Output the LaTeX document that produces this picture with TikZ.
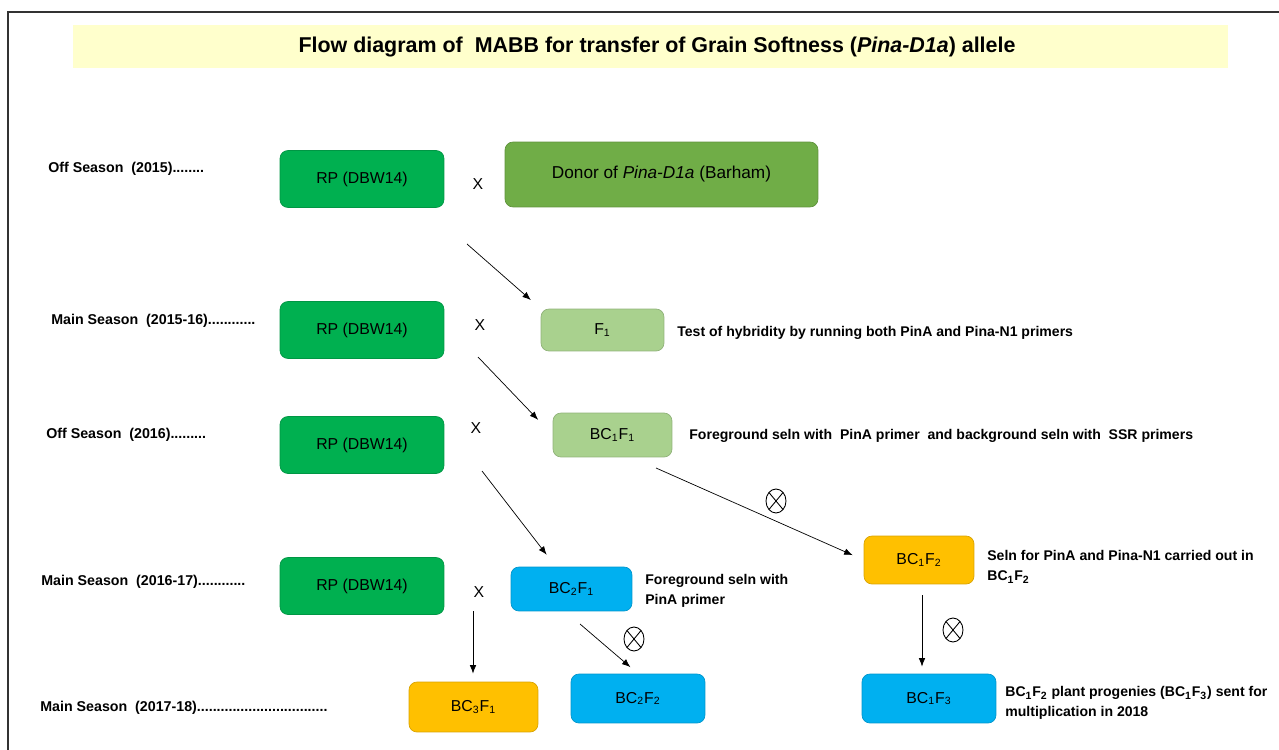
\documentclass[tikz,border=0pt]{standalone}
\usepackage{fontspec}
\setmainfont{Liberation Sans}
\usetikzlibrary{arrows.meta}

\definecolor{rpgreen}{HTML}{00B050}
\definecolor{donorgreen}{HTML}{70AD47}
\definecolor{lightgreen}{HTML}{A9D18E}
\definecolor{gold}{HTML}{FFC000}
\definecolor{skyblue}{HTML}{00B0F0}
\definecolor{titlebg}{HTML}{FFFFCC}

\newcommand{\sbs}[1]{\textsubscript{#1}}

\tikzset{
  box/.style={rounded corners=0.16cm, inner sep=0pt, align=center,
    font=\fontsize{9}{11}\selectfont, draw=#1!85!black, fill=#1, line width=0.4pt},
  rpbox/.style={box=rpgreen, minimum width=3.28cm, minimum height=1.14cm},
  season/.style={anchor=west, inner sep=0pt, font=\fontsize{8.1}{10}\selectfont\bfseries},
  note/.style={anchor=west, inner sep=0pt, align=left, font=\fontsize{8}{11.3}\selectfont\bfseries},
  cross/.style={inner sep=0pt, font=\fontsize{9}{11}\selectfont},
  arr/.style={-{Latex[length=0.17cm,width=0.13cm]}, line width=0.4pt},
  selfed/.pic={\draw[line width=0.5pt] (0,0) ellipse (0.2cm and 0.24cm);
    \draw[line width=0.5pt] (-0.141cm,-0.17cm) -- (0.141cm,0.17cm) (-0.141cm,0.17cm) -- (0.141cm,-0.17cm);}
}

\begin{document}
\begin{tikzpicture}[x=0.02cm, y=-0.02cm]
  \useasboundingbox (0,0) rectangle (1279,750);
  \draw[line width=1.2pt, black!80] (8,750) -- (8,12) -- (1279,12);

  % title
  \fill[titlebg] (73,25) rectangle (1228,68);
  \node[inner sep=0pt, font=\fontsize{12.2}{14}\selectfont\bfseries] (title) at (657,47)
    {Flow diagram of\ \ MABB for transfer of Grain Softness (\textit{Pina-D1a}) allele};

  % seasons
  \node[season] (s1) at (48,169) {Off Season\ \ (2015)........};
  \node[season] (s2) at (51,321) {Main Season\ \ (2015-16)............};
  \node[season] (s3) at (46,435) {Off Season\ \ (2016).........};
  \node[season] (s4) at (41,582) {Main Season\ \ (2016-17)............};
  \node[season] (s5) at (40,708) {Main Season\ \ (2017-18).................................};

  % recurrent parent and crosses
  \foreach \i/\y in {1/179,2/330,3/445,4/586}
    {\node[rpbox] (rp\i) at (362,\y) {RP (DBW14)};}
  \foreach \i/\x/\y in {1/478/184,2/480/325,3/476/428,4/479/592}
    {\node[cross] (x\i) at (\x,\y) {X};}

  \node[box=donorgreen, minimum width=6.26cm, minimum height=1.3cm,
    font=\fontsize{9.8}{12}\selectfont] (donor) at (661.5,174.5)
    {Donor of \textit{Pina-D1a} (Barham)};
  \node[box=lightgreen, minimum width=2.46cm, minimum height=0.84cm] (F1) at (602.5,330) {F\sbs{1}};
  \node[box=lightgreen, minimum width=2.38cm, minimum height=0.88cm] (BC1F1) at (612.5,435) {BC\sbs{1}F\sbs{1}};
  \node[box=gold, minimum width=2.2cm, minimum height=0.96cm] (BC1F2) at (919,560) {BC\sbs{1}F\sbs{2}};
  \node[box=skyblue, minimum width=2.42cm, minimum height=0.88cm] (BC2F1) at (571.5,589) {BC\sbs{2}F\sbs{1}};
  \node[box=gold, minimum width=2.58cm, minimum height=1cm] (BC3F1) at (473.5,707) {BC\sbs{3}F\sbs{1}};
  \node[box=skyblue, minimum width=2.68cm, minimum height=0.98cm] (BC2F2) at (638,698.5) {BC\sbs{2}F\sbs{2}};
  \node[box=skyblue, minimum width=2.68cm, minimum height=0.98cm] (BC1F3) at (929,698.5) {BC\sbs{1}F\sbs{3}};

  % notes
  \node[note] (n1) at (677,333) {Test of hybridity by running both PinA and Pina-N1 primers};
  \node[note] (n2) at (689,436) {Foreground seln with\ \ PinA primer\ \ and background seln with\ \ SSR primers};
  \node[note] (n3) at (987,567) {Seln for PinA and Pina-N1 carried out in\\BC\sbs{1}F\sbs{2}};
  \node[note] (n4) at (645,590.5) {Foreground seln with\\PinA primer};
  \node[note] (n5) at (1005,703) {BC\sbs{1}F\sbs{2} plant progenies (BC\sbs{1}F\sbs{3}) sent for\\multiplication in 2018};

  % arrows
  \coordinate (a1) at (467,244);
  \coordinate (a2) at (478,357);
  \coordinate (a3) at (482,471);
  \coordinate (a4) at (656,468);
  \coordinate (a5) at (473,611);
  \coordinate (a6) at (580,624);
  \coordinate (a7) at (922,595);
  \draw[arr, shorten >=0.26cm] (a1) -- (F1.north west);
  \draw[arr, shorten >=0.42cm] (a2) -- (BC1F1.west);
  \draw[arr, shorten >=0.3cm] (a3) -- (BC2F1.125);
  \draw[arr, shorten >=0.24cm] (a4) -- (BC1F2.west);
  \draw[arr, shorten >=0.16cm] (a5) -- (a5 |- BC3F1.north);
  \draw[arr, shorten >=0.2cm] (a6) -- (BC2F2.north);
  \draw[arr, shorten >=0.14cm] (a7) -- (a7 |- BC1F3.north);

  % selfing
  \pic at (776,501) {selfed};
  \pic at (634,639) {selfed};
  \pic at (953,630) {selfed};
\end{tikzpicture}
\end{document}
